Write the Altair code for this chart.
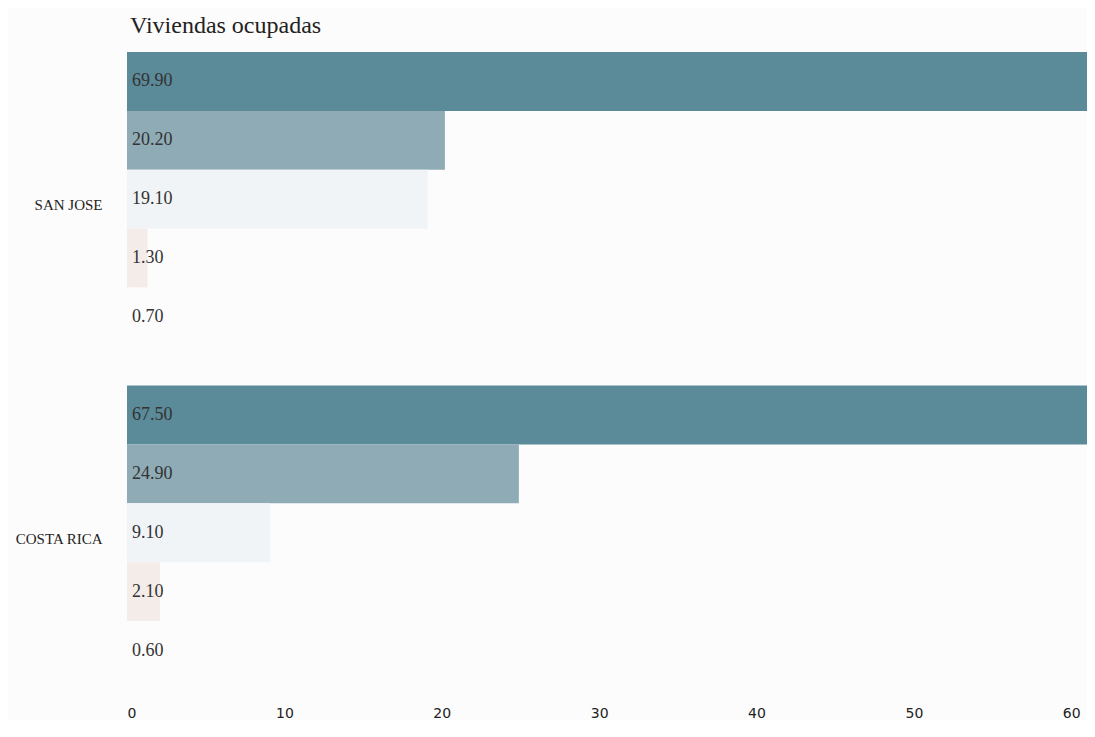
import altair as alt
import pandas as pd

groups = ["SAN JOSE", "COSTA RICA"]
series = ["Serie 1", "Serie 2", "Serie 3", "Serie 4", "Serie 5"]
san_jose = [69.90, 20.20, 19.10, 1.30, 0.70]
costa_rica = [67.50, 24.90, 9.10, 2.10, 0.60]
colors = ["#5b8a99", "#8eabb6", "#f1f4f7", "#f3ece9", "#fcfcfc"]
x_ticks = [0, 10, 20, 30, 40, 50, 60]

rows = []
for g, vals in zip(groups, [san_jose, costa_rica]):
    for s, v in zip(series, vals):
        rows.append({"grupo": g, "serie": s, "valor": v, "etiqueta": f"{v:.2f}"})
df = pd.DataFrame(rows)

y = alt.Y(
    "grupo:N",
    sort=groups,
    scale=alt.Scale(paddingInner=0.117, paddingOuter=0),
    axis=alt.Axis(
        title=None, domain=False, ticks=False,
        labelFont="Liberation Serif", labelFontSize=15, labelColor="#222",
        labelPadding=25, labelOffset=6, minExtent=119, maxExtent=119,
    ),
)
yoff = alt.YOffset("serie:N", sort=series, scale=alt.Scale(paddingInner=0, paddingOuter=0))
x = alt.X(
    "valor:Q",
    scale=alt.Scale(domain=[0, 61], nice=False, zero=True),
    axis=alt.Axis(
        values=x_ticks, title=None, domain=False, ticks=False, grid=False,
        labelFont="DejaVu Sans", labelFontSize=14, labelPadding=26, labelColor="#222",
    ),
)

bars = alt.Chart(df).mark_bar(clip=True).encode(
    x=x,
    y=y,
    yOffset=yoff,
    color=alt.Color("serie:N", sort=series, scale=alt.Scale(domain=series, range=colors), legend=None),
)

text = alt.Chart(df).mark_text(
    align="left", baseline="middle", dx=5, font="Liberation Serif", fontSize=18, color="#333"
).encode(
    x=alt.datum(0),
    y=alt.Y("grupo:N", sort=groups),
    yOffset=alt.YOffset("serie:N", sort=series),
    text="etiqueta:N",
)

chart = (
    alt.layer(bars, text)
    .properties(
        width=960,
        height=628,
        padding={"left": 0, "top": 6, "right": 0, "bottom": 0},
        background="#fdfcfc",
        title=alt.TitleParams(
            "Viviendas ocupadas", anchor="start", frame="group", font="Liberation Serif",
            fontSize=24, fontWeight="normal", color="#222", offset=14, dx=3,
        ),
    )
    .configure_view(stroke=None)
)

chart.save("out.html", embed_options={"renderer": "svg", "actions": False})
